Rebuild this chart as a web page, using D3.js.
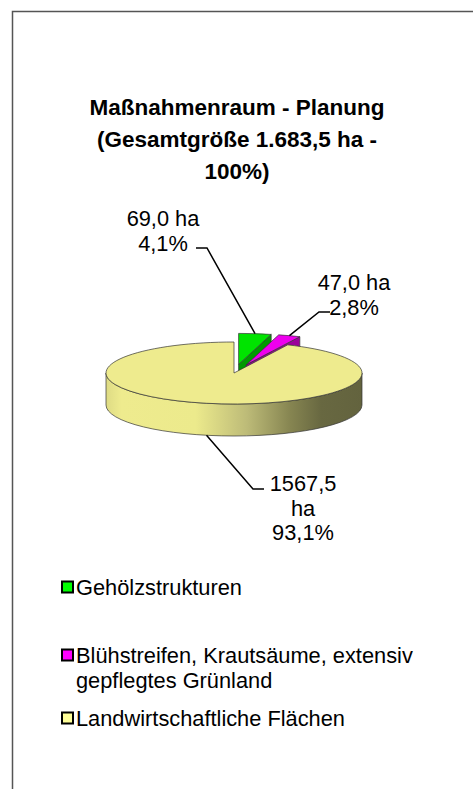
<!DOCTYPE html>
<html>
<head>
<meta charset="utf-8">
<script src="https://cdn.jsdelivr.net/npm/d3@7"></script>
<style>
  html, body { margin: 0; padding: 0; background: #fff; }
  svg { display: block; font-family: "Liberation Sans", Arial, Helvetica, sans-serif; }
</style>
</head>
<body>
<div class="piechart"></div>
<script>
// data
const categories = ["Gehölzstrukturen", "Blühstreifen, Krautsäume, extensiv gepflegtes Grünland", "Landwirtschaftliche Flächen"];
const values = [69.0, 47.0, 1567.5];
const colors = ["#00ff00", "#ff00ff", "#ffff99"];
const titleLines = ["Maßnahmenraum - Planung", "(Gesamtgröße 1.683,5 ha -", "100%)"];
const legendLines = [["Gehölzstrukturen"], ["Blühstreifen, Krautsäume, extensiv", "gepflegtes Grünland"], ["Landwirtschaftliche Flächen"]];

const data = categories.map((name, i) => ({ name, value: values[i], color: colors[i] }));
const total = d3.sum(values);

const de = d3.formatLocale({ decimal: ",", thousands: ".", grouping: [3], currency: ["", " €"] });
const fmtVal = de.format(".1f");
const fmtPct = de.format(".1%");

const W = 473, H = 789;
const cx = 234, cy = 373, rx = 128, ry = 31, depth = 32;
const titleSize = "22.5px", textSize = "21.8px";

const svg = d3.select(".piechart").append("svg")
    .attr("width", W).attr("height", H);

// chart frame
svg.append("rect")
    .attr("x", 12.5).attr("y", 11.5)
    .attr("width", W + 20).attr("height", H + 20)
    .attr("fill", "none").attr("stroke", "#555").attr("stroke-width", 1.5);

// title
svg.append("text")
    .attr("text-anchor", "middle")
    .style("font-weight", "bold").style("font-size", titleSize)
    .selectAll("tspan").data(titleLines).enter().append("tspan")
    .attr("x", 237).attr("y", (d, i) => 115 + i * 32)
    .text(d => d);

// pie
const pie = d3.pie().sort(null).value(d => d.value);
const arcs = pie(data);

const explode = d => d.index < 2 ? 0.28 : 0;
arcs.forEach(d => {
    const mid = (d.startAngle + d.endAngle) / 2;
    d.mid = mid;
    d.ox = cx + explode(d) * rx * Math.sin(mid);
    d.oy = cy - explode(d) * ry * Math.cos(mid);
});

const pt = (d, a, dz = 0) => [d.ox + rx * Math.sin(a), d.oy - ry * Math.cos(a) + dz];

const topPath = d => {
    const p0 = pt(d, d.startAngle), p1 = pt(d, d.endAngle);
    const large = d.endAngle - d.startAngle > Math.PI ? 1 : 0;
    return `M${d.ox},${d.oy}L${p0}A${rx},${ry} 0 ${large} 1 ${p1}Z`;
};
const wallPath = d => {
    const s = Math.max(d.startAngle, Math.PI / 2), e = Math.min(d.endAngle, 3 * Math.PI / 2);
    if (s >= e) return null;
    const a = pt(d, s), b = pt(d, e), b2 = pt(d, e, depth), a2 = pt(d, s, depth);
    return `M${a}A${rx},${ry} 0 0 1 ${b}L${b2}A${rx},${ry} 0 0 0 ${a2}Z`;
};
const cutPath = (d, a) => {
    const p = pt(d, a), p2 = pt(d, a, depth);
    return `M${d.ox},${d.oy}L${p}L${p2}L${d.ox},${d.oy + depth}Z`;
};

const defs = svg.append("defs");
const grad = defs.append("linearGradient").attr("id", "sideGrad")
    .attr("gradientUnits", "userSpaceOnUse")
    .attr("x1", cx - rx).attr("x2", cx + rx).attr("y1", 0).attr("y2", 0);
[["0%", "#dedb84"], ["6%", "#eeeb8e"], ["35%", "#ecea8c"], ["55%", "#bdbb78"], ["72%", "#868551"], ["84%", "#686841"], ["100%", "#63633e"]]
    .forEach(s => grad.append("stop").attr("offset", s[0]).attr("stop-color", s[1]));

const topColor = { 0: "#00e400", 1: "#ee00ee", 2: "#eeeb8e" };
const cutColor = { 0: "#009a00", 1: "#9a009a", 2: "#9e9c5f" };

const plot = svg.append("g").attr("stroke", "#333").attr("stroke-width", 0.7).attr("stroke-linejoin", "round");

// back (exploded) slices first, then the big one
const order = arcs.slice().sort((a, b) => explode(b) - explode(a));
order.forEach(d => {
    const g = plot.append("g");
    // cut faces that look towards the viewer
    if (Math.cos(d.endAngle + Math.PI / 2) < 0 && explode(d) > 0)
        g.append("path").attr("d", cutPath(d, d.endAngle)).attr("fill", cutColor[d.index]);
    const w = wallPath(d);
    if (w) g.append("path").attr("d", w).attr("fill", d.index === 2 ? "url(#sideGrad)" : cutColor[d.index]);
    g.append("path").attr("d", topPath(d)).attr("fill", topColor[d.index]);
});

// data labels
const labelLayout = [
    { x: 163, y: 226, lines: d => [fmtVal(d.value) + " ha", fmtPct(d.value / total)], knee: [207, 248], end: [196, 248], from: "top" },
    { x: 354, y: 290, lines: d => [fmtVal(d.value) + " ha", fmtPct(d.value / total)], knee: [319, 312], end: [330, 312], from: "top" },
    { x: 303, y: 491, lines: d => [fmtVal(d.value), "ha", fmtPct(d.value / total)], knee: [253, 489], end: [264, 489], from: "side" }
];
const lineH = 24.5;

arcs.forEach((d, i) => {
    const L = labelLayout[i];
    const start = L.from === "top" ? pt(d, d.mid) : pt(d, d.mid, depth);
    svg.append("path")
        .attr("d", `M${start}L${L.knee}L${L.end}`)
        .attr("fill", "none").attr("stroke", "#000").attr("stroke-width", 1.5);
    svg.append("text")
        .attr("text-anchor", "middle").style("font-size", textSize).attr("fill", "#000")
        .selectAll("tspan").data(L.lines(d.data)).enter().append("tspan")
        .attr("x", L.x).attr("y", (t, j) => L.y + j * lineH)
        .text(t => t);
});

// legend
const legendY = [595, 663, 726];
const legend = svg.append("g").selectAll("g").data(data).enter().append("g")
    .attr("transform", (d, i) => `translate(0,${legendY[i]})`);
legend.append("rect")
    .attr("x", 62).attr("y", -13.5).attr("width", 11).attr("height", 11)
    .attr("fill", d => d.color).attr("stroke", "#000").attr("stroke-width", 2);
legend.append("text").style("font-size", textSize)
    .selectAll("tspan").data((d, i) => legendLines[i]).enter().append("tspan")
    .attr("x", 76).attr("y", (t, j) => j * 25)
    .text(t => t);
</script>
</body>
</html>
